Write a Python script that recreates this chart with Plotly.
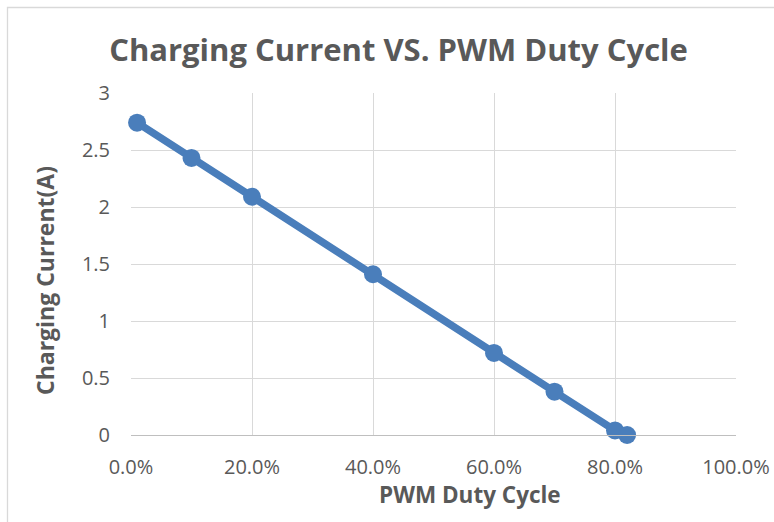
import plotly.graph_objects as go

duty_cycle = [0.01, 0.10, 0.20, 0.40, 0.60, 0.70, 0.80, 0.82]
current_a = [2.74, 2.43, 2.09, 1.41, 0.72, 0.38, 0.04, 0.0]
x_ticks = [0, 0.2, 0.4, 0.6, 0.8, 1.0]
x_tick_labels = ["0.0%", "20.0%", "40.0%", "60.0%", "80.0%", "100.0%"]
y_ticks = [0, 0.5, 1, 1.5, 2, 2.5, 3]
y_tick_labels = ["0", "0.5", "1", "1.5", "2", "2.5", "3"]

blue = "#4a7ebb"
grey_text = "#595959"
font_family = "Open Sans, Liberation Sans, sans-serif"

fig = go.Figure()
fig.add_trace(go.Scatter(
    x=duty_cycle, y=current_a, mode="lines+markers",
    line=dict(color=blue, width=7.5),
    marker=dict(color=blue, size=18),
    cliponaxis=False, showlegend=False,
))

W, H = 774, 522
L, R, T, B = 131, 38, 93, 87
pw, ph = W - L - R, H - T - B

fig.update_layout(
    width=W, height=H,
    margin=dict(l=L, r=R, t=T, b=B, autoexpand=False),
    paper_bgcolor="white", plot_bgcolor="white",
    font=dict(family=font_family, color=grey_text),
    title=dict(text="<b>Charging Current VS. PWM Duty Cycle</b>",
               x=398.5 / W, xanchor="center", y=1 - 50 / H, yanchor="middle",
               font=dict(size=31, color=grey_text, family=font_family)),
    xaxis=dict(range=[0, 1.0], tickvals=x_ticks, ticktext=x_tick_labels,
               automargin=False,
               showgrid=True, gridcolor="#d9d9d9", gridwidth=1.3,
               showline=True, linecolor="#bfbfbf", linewidth=1.3,
               zeroline=False, ticks="", ticklabelstandoff=14,
               tickfont=dict(size=20, color=grey_text)),
    yaxis=dict(range=[0, 3], tickvals=y_ticks, ticktext=y_tick_labels,
               automargin=False,
               showgrid=True, gridcolor="#d9d9d9", gridwidth=1.3,
               showline=False, zeroline=False, ticks="", ticklabelstandoff=20,
               tickfont=dict(size=20, color=grey_text)),
    annotations=[
        dict(text="<b>PWM Duty Cycle</b>", xref="paper", yref="paper",
             x=(469.5 - L) / pw, y=-(494 - (H - B)) / ph,
             xanchor="center", yanchor="middle", showarrow=False,
             font=dict(size=22.5, color=grey_text, family=font_family)),
        dict(text="<b>Charging Current(A)</b>", xref="paper", yref="paper",
             x=(45 - L) / pw, y=1 - (281 - T) / ph, textangle=-90,
             xanchor="center", yanchor="middle", showarrow=False,
             font=dict(size=23, color=grey_text, family=font_family)),
    ],
    shapes=[dict(type="rect", xref="paper", yref="paper",
                 x0=(7.5 - L) / pw, x1=1.5, y0=-1.0, y1=1 + (T - 7.5) / ph,
                 line=dict(color="#d9d9d9", width=1.3), layer="below")],
)

fig.write_html("out.html", config={"displayModeBar": False},
               post_script="document.body.style.margin='0';")
